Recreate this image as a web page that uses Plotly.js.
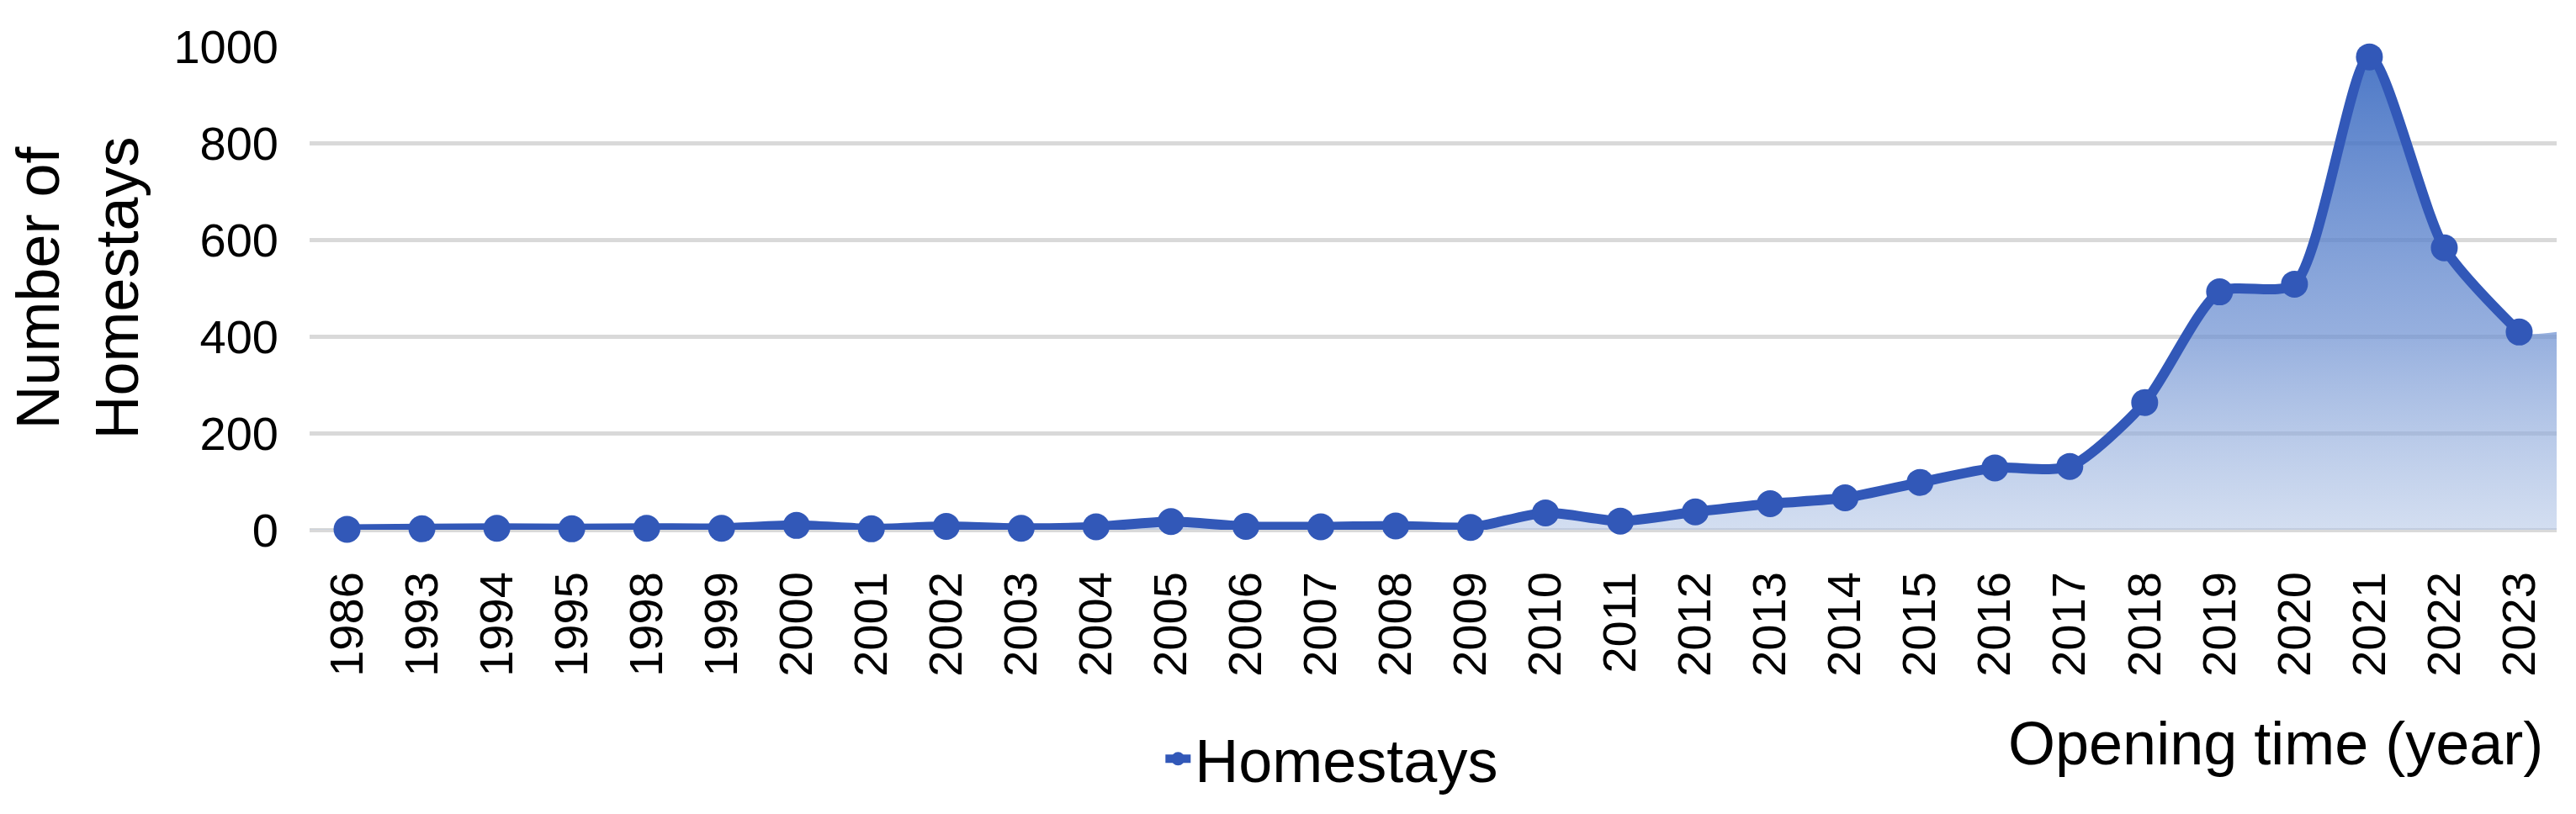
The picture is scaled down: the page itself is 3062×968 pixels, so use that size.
<!DOCTYPE html>
<html>
<head>
<meta charset="utf-8">
<script src="https://cdn.plot.ly/plotly-3.0.1.min.js"></script>
<style>
  html, body { margin: 0; padding: 0; background: #fff; }
  #chart { width: 3062px; height: 968px; }
</style>
</head>
<body>
<div id="chart"></div>
<script>
// opening year of homestays (categories on the x axis)
const years = ['1986', '1993', '1994', '1995', '1998', '1999', '2000', '2001', '2002', '2003',
  '2004', '2005', '2006', '2007', '2008', '2009', '2010', '2011', '2012', '2013',
  '2014', '2015', '2016', '2017', '2018', '2019', '2020', '2021', '2022', '2023'];

// number of homestays opened in each year
const homestays = [1, 2, 3, 2, 3, 3, 9, 2, 7, 3,
  6, 17, 7, 6, 8, 5, 35, 18, 37, 54,
  66, 98, 128, 131, 263, 492, 508, 978, 583, 409];

const yTicks = [0, 200, 400, 600, 800, 1000];

const FONT = 'Liberation Sans, Arial, sans-serif';
const LINE_COLOR = 'rgb(50,88,184)';

// category positions
const idx = years.map((_, i) => i);

// the shaded area runs from edge to edge of the plot, holding the end values
const areaX = [-0.5].concat(idx, [years.length - 0.5]);
const areaY = [homestays[0]].concat(homestays, [homestays[homestays.length - 1]]);

const area = {
  x: areaX,
  y: areaY,
  type: 'scatter',
  mode: 'lines',
  line: { shape: 'spline', smoothing: 0.7, width: 0, color: 'rgba(0,0,0,0)' },
  fill: 'tozeroy',
  fillgradient: {
    type: 'vertical',
    start: 0,
    stop: 1000,
    colorscale: [
      [0, 'rgba(175,195,229,0.55)'],
      [0.4, 'rgba(110,145,210,0.72)'],
      [1, 'rgba(50,100,190,0.88)']
    ]
  },
  showlegend: false,
  hoverinfo: 'skip'
};

const line = {
  x: idx,
  y: homestays,
  name: 'Homestays',
  type: 'scatter',
  mode: 'lines+markers',
  line: { shape: 'spline', smoothing: 0.7, width: 12, color: LINE_COLOR },
  marker: { size: 32, color: LINE_COLOR },
  cliponaxis: false
};

const layout = {
  width: 3062,
  height: 968,
  margin: { l: 368, r: 23, t: 55, b: 333 },
  paper_bgcolor: '#ffffff',
  plot_bgcolor: '#ffffff',
  font: { family: FONT, color: '#000000', size: 56 },
  xaxis: {
    type: 'linear',
    range: [-0.5, years.length - 0.5],
    tickmode: 'array',
    tickvals: idx,
    ticktext: years,
    tickangle: -90,
    tickfont: { family: FONT, size: 56, color: '#000000' },
    ticks: '',
    ticklabelstandoff: 38,
    showgrid: false,
    zeroline: false,
    showline: false,
    fixedrange: true
  },
  yaxis: {
    range: [0, 1000],
    tickmode: 'array',
    tickvals: yTicks,
    tickfont: { family: FONT, size: 56, color: '#000000' },
    ticks: '',
    ticklabelstandoff: 36,
    showgrid: true,
    gridcolor: '#D9D9D9',
    gridwidth: 5,
    zeroline: true,
    zerolinecolor: '#D9D9D9',
    zerolinewidth: 5,
    showline: false,
    title: {
      text: 'Number of<br>Homestays',
      font: { family: FONT, size: 72, color: '#000000' },
      standoff: 18
    },
    fixedrange: true
  },
  showlegend: true,
  legend: {
    orientation: 'h',
    x: 0.379,
    xanchor: 'left',
    y: -0.474,
    yanchor: 'middle',
    font: { family: FONT, size: 72, color: '#000000' },
    bgcolor: 'rgba(0,0,0,0)'
  },
  annotations: [{
    text: 'Opening time (year)',
    xref: 'paper',
    yref: 'paper',
    x: 1,
    y: -0.441,
    xanchor: 'right',
    yanchor: 'middle',
    xshift: -14,
    showarrow: false,
    font: { family: FONT, size: 72, color: '#000000' }
  }]
};

Plotly.newPlot('chart', [area, line], layout, { displayModeBar: false, staticPlot: true });
</script>
</body>
</html>
